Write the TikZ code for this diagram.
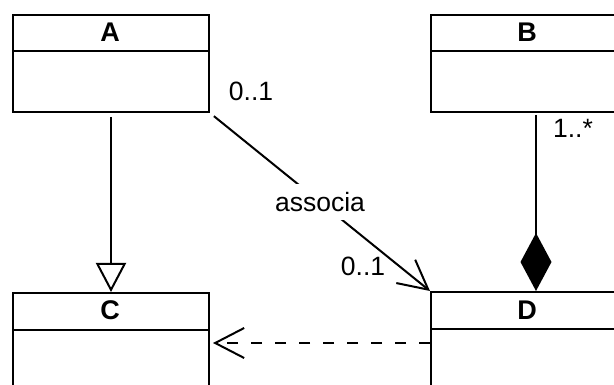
\documentclass[tikz,border=0pt]{standalone}
\usepackage{fontspec}
\setmainfont{Liberation Sans}
\usetikzlibrary{arrows.meta}
\begin{document}
\begin{tikzpicture}[x=1pt,y=-1pt,line width=2pt,
  classbox/.style={draw,line width=2pt,inner sep=0pt,anchor=north west,minimum width=196pt},
  titletext/.style={font=\fontsize{27}{32}\selectfont\bfseries,inner sep=0pt},
  lbl/.style={font=\fontsize{26.5}{32}\selectfont,inner sep=0pt},
  openhead/.style={-{Straight Barb[length=29pt,width=30pt,line width=2pt]}},
  genhead/.style={-{Triangle[open,length=29pt,width=30pt,line width=2pt]}},
  comphead/.style={-{Diamond[length=58pt,width=31pt]}},
  deppat/.style={dash pattern=on 11pt off 13pt}]
\useasboundingbox (0,0) rectangle (614,385);
\clip (0,0) rectangle (614,385);
\fill[white] (0,0) rectangle (614,385);
% classes
\node[classbox,minimum height=97pt] (A) at (12,14) {};
\node[classbox,minimum height=97pt,minimum width=200pt] (B) at (430,14) {};
\node[classbox,minimum height=130pt] (C) at (12,292) {};
\node[classbox,minimum height=130pt,minimum width=200pt] (D) at (430,291) {};
\foreach \n in {A,B,C,D}{
  \draw ([yshift=-37.5pt]\n.north west) -- ([yshift=-37.5pt]\n.north east);
}
\node[titletext] (At) at (110,32.5) {A};
\node[titletext] (Bt) at (527,32.5) {B};
\node[titletext] (Ct) at (110,310.5) {C};
\node[titletext] (Dt) at (527,310) {D};
% generalization A -> C
\draw[genhead,shorten <=4pt] (A.south) -- (C.north);
% association A -> D
\draw[openhead,shorten <=5pt] (A.south east) -- node[lbl,fill=white,inner xsep=3pt,inner ysep=8pt] (as) {associa} (D.north west);
\node[lbl] (m1) at (251,91) {0..1};
\node[lbl] (m2) at (363,266) {0..1};
% composition B -> D
\coordinate (cx) at (536,0);
\draw[comphead,shorten <=2pt] (B.south -| cx) -- (D.north -| cx);
\node[lbl] (m3) at (573,128) {1..*};
% dependency D -> C
\coordinate (dy) at (0,343);
\draw[openhead,deppat,shorten >=3pt] (D.west |- dy) -- (C.east |- dy);
\end{tikzpicture}
\end{document}
